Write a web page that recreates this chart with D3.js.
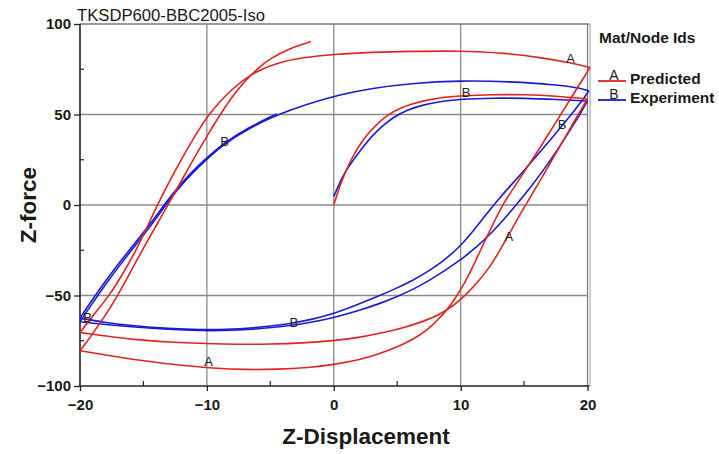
<!DOCTYPE html>
<html><head><meta charset="utf-8">
<script src="https://cdn.jsdelivr.net/npm/d3@7"></script>
<style>
body{margin:0;background:#fff;}
svg{display:block;font-family:Arial,"Liberation Sans",sans-serif;}
</style>
</head><body>
<svg id="chart" width="719" height="454"></svg>
<script>
// ---------------- data ----------------
const chartTitle = "TKSDP600-BBC2005-Iso";
const xTitle = "Z-Displacement";
const yTitle = "Z-force";
const legendTitle = "Mat/Node Ids";
const seriesNames = ["Predicted", "Experiment"];
const seriesIds = ["A", "B"];
const xTicks = [-20, -10, 0, 10, 20];
const yTicks = [-100, -50, 0, 50, 100];
const xMinorTicks = [-15, -5, 5, 15];
const yMinorTicks = [-75, -25, 25, 75];
const xGrid = [-10, 0, 10];
const yGrid = [-50, 0, 50];

// Predicted (A) – loading path segments, [displacement, force]
const predVirgin = [[0,0],[0.4,9],[0.9,18],[1.5,27],[2.2,35],[2.9,41],[3.6,46],[4.3,50],[5.2,53.5],[6.2,56],[7.5,58.2],[8.8,59.6],[10,60.4],[12.5,61],[15,61],[17.5,60.3],[20,58.5]];
const predUnload1 = [[20,58.5],[19.1,48],[18.2,37],[17.3,26],[16.4,15],[15.5,4.5],[14.7,-5],[13.9,-15],[13.1,-25],[12.3,-34.5],[11.3,-43],[10.3,-50.5],[9.3,-56.3],[8.3,-60.8],[7,-64.5],[5.5,-67.8],[3.7,-70.9],[2,-73.2],[0,-75],[-2.5,-76.3],[-5,-76.9],[-7.5,-77],[-10,-76.6],[-12.5,-75.9],[-15,-74.8],[-17.5,-72.9],[-20,-70.5]];
const predReload1 = [[-20,-70.5],[-19.3,-64],[-18.5,-57],[-17.6,-49],[-16.8,-40],[-16,-30.5],[-15.3,-21],[-14.6,-10.5],[-13.9,0],[-13.1,11],[-12.3,21.5],[-11.5,31.5],[-10.7,41],[-9.9,49.5],[-9,57],[-8,64],[-7,69.8],[-5.8,74.8],[-4.3,78.8],[-2.5,81.5],[0,83.3],[3,84.4],[6,84.9],[10,85.2],[13.5,84],[16.5,81.3],[18.7,78.5],[20.2,76]];
const predUnload2 = [[20.2,76],[19.4,67],[18.6,58],[17.8,49],[17,40],[16.2,31],[15.3,21.5],[14.4,11.5],[13.5,2.5],[12.8,-7],[12.1,-17],[11.4,-27.5],[10.7,-38],[10,-47],[9.2,-55.5],[8.3,-63],[7.3,-69.5],[6.2,-74.5],[5,-78.5],[3.5,-82.5],[2,-85.5],[0,-88.2],[-2,-89.9],[-4.5,-90.8],[-7,-91],[-9.5,-90.2],[-12,-88.6],[-14.5,-86.6],[-17,-84],[-20,-80.5]];
const predReload2 = [[-20,-80.5],[-19.5,-76],[-18.8,-69],[-18,-61],[-17.2,-52],[-16.4,-42],[-15.6,-31.5],[-14.7,-20],[-13.8,-9],[-12.9,2],[-12,13.5],[-11,26],[-10,38],[-9,49.5],[-8,60],[-7,68.5],[-6,75.5],[-5,81],[-3.5,86.5],[-1.8,90.3]];

// Experiment (B)
const expVirgin = [[0,4.6],[0.5,13],[1,19.5],[1.6,25.5],[2.3,32],[3,38],[3.8,43.5],[4.7,48.5],[5.8,52.5],[7,55.3],[8.5,57.3],[10,58.5],[12.5,59.1],[15,59],[17.5,58.3],[20,57.5]];
const expUnload1 = [[20,57.5],[19.4,50],[18.5,40],[17.6,30],[16.6,20],[15.6,10.5],[14.6,2],[13.6,-6.5],[12.5,-15],[11.3,-23],[10,-30.4],[8.8,-36],[7.6,-41.4],[6.3,-46.5],[5,-50.6],[3.7,-54.3],[2,-58.3],[0,-62.2],[-1.7,-64.7],[-3.4,-66.6],[-5.5,-68.2],[-8,-69.4],[-10.5,-69.5],[-13,-68.8],[-15.8,-67.4],[-18,-66],[-20,-64.5]];
const expReload1 = [[-20,-64.5],[-19.1,-55],[-18.1,-45],[-16.9,-33.5],[-15.6,-22],[-14.3,-10.5],[-13.1,1.5],[-11.8,13],[-10.3,23.5],[-8.7,33.5],[-6.8,42],[-4.5,49.8],[-2,56],[0.5,61],[3,64.5],[6,67.2],[10,68.8],[13.9,68.2],[17.5,66.5],[19.5,64.6],[20.1,63]];
const expUnload2 = [[20.1,63],[19.6,58],[19,52.5],[18.2,45.5],[17.2,37],[16.1,28],[15,19],[13.9,10.5],[12.9,2.5],[11.8,-7],[10.8,-16],[9.8,-24],[8.7,-30.5],[7.5,-36.5],[6.2,-41.8],[4.8,-46.5],[3.3,-51],[1.7,-55.5],[0,-60],[-1.7,-63.2],[-3.4,-65.5],[-5.5,-67.4],[-8,-68.7],[-10.5,-69],[-13,-68.3],[-15.8,-66.8],[-18,-65],[-20,-62.5]];
const expReload2 = [[-20,-62.5],[-19.1,-53],[-18.1,-43],[-16.9,-31.8],[-15.6,-20.5],[-14.3,-9],[-13.1,2.6],[-11.8,14],[-10.3,24.3],[-8.7,34.2],[-6.8,42.6],[-4.5,50.3]];

// curve id markers (series index, displacement, force)
const markerSeries = [0, 1, 1, 0, 1, 1, 0, 1];
const markerX = [18.67, 10.44, 18.0, 13.8, -8.6, -3.15, -9.86, -19.4];
const markerY = [80.7, 61.9, 44.2, -17.5, 35, -64.8, -86.6, -62.4];

// ---------------- drawing ----------------
const colors = ["#e4221f", "#1a1ad6"];
const W = 719, H = 454;
const m = {left: 80, right: 131.5, top: 24, bottom: 68};
const svg = d3.select("#chart");
const x = d3.scaleLinear().domain([-20, 20]).range([m.left, W - m.right]);
const y = d3.scaleLinear().domain([-100, 100]).range([H - m.bottom, m.top]);
const x0 = x.range()[0], x1 = x.range()[1], y0 = y.range()[0], y1 = y.range()[1];

svg.append("rect").attr("width", W).attr("height", H).attr("fill", "#fff");

// grid
const g = svg.append("g");
g.selectAll(".gx").data(xGrid).join("line")
  .attr("x1", d => x(d)).attr("x2", d => x(d)).attr("y1", y1).attr("y2", y0)
  .attr("stroke", "#8a8a8a").attr("stroke-width", 1.3);
g.selectAll(".gy").data(yGrid).join("line")
  .attr("y1", d => y(d)).attr("y2", d => y(d)).attr("x1", x0).attr("x2", x1)
  .attr("stroke", "#8a8a8a").attr("stroke-width", 1.3);
// top & right frame
g.append("line").attr("x1", x0).attr("x2", x1 + 2).attr("y1", y1).attr("y2", y1)
  .attr("stroke", "#7a7a7a").attr("stroke-width", 1.4);
g.append("line").attr("x1", x1).attr("x2", x1).attr("y1", y1).attr("y2", y0)
  .attr("stroke", "#7a7a7a").attr("stroke-width", 1.2);
g.append("line").attr("x1", x1 + 2.5).attr("x2", x1 + 2.5).attr("y1", y1).attr("y2", y0)
  .attr("stroke", "#9a9a9a").attr("stroke-width", 1.0);

// axes
const xAxis = d3.axisBottom(x).tickValues(xTicks).tickSize(5).tickPadding(8).tickFormat(d3.format("d"));
const yAxis = d3.axisLeft(y).tickValues(yTicks).tickSize(6).tickPadding(3).tickFormat(d3.format("d"));
const gx = svg.append("g").attr("transform", `translate(0,${y0})`).call(xAxis);
const gy = svg.append("g").attr("transform", `translate(${x0},0)`).call(yAxis);
[gx, gy].forEach(a => {
  a.select(".domain").attr("stroke", "#222").attr("stroke-width", 1.6);
  a.selectAll(".tick line").attr("stroke", "#222").attr("stroke-width", 1.3);
  a.selectAll(".tick text").attr("fill", "#1a1a1a").attr("font-size", 15).attr("font-weight", "bold")
    .attr("font-family", "Arial, 'Liberation Sans', sans-serif");
});
gx.select(".domain").attr("d", `M${x0},0H${x1 + 2}`);
gy.select(".domain").attr("d", `M0,${y0}V${y1}`);
// minor ticks (inward)
svg.append("g").selectAll("line").data(xMinorTicks).join("line")
  .attr("x1", d => x(d)).attr("x2", d => x(d)).attr("y1", y0).attr("y2", y0 - 5)
  .attr("stroke", "#222").attr("stroke-width", 1.2);
svg.append("g").selectAll("line").data(yMinorTicks).join("line")
  .attr("y1", d => y(d)).attr("y2", d => y(d)).attr("x1", x0).attr("x2", x0 + 4)
  .attr("stroke", "#222").attr("stroke-width", 1.2);

// curves
svg.append("defs").append("clipPath").attr("id", "clip")
  .append("rect").attr("x", x0).attr("y", y1 - 2).attr("width", x1 - x0 + 3).attr("height", y0 - y1 + 4);
const line = d3.line().x(d => x(d[0])).y(d => y(d[1])).curve(d3.curveBasis);
const series = [
  [predVirgin, predUnload1, predReload1, predUnload2, predReload2],
  [expVirgin, expUnload1, expReload1, expUnload2, expReload2]
];
const cg = svg.append("g").attr("clip-path", "url(#clip)");
[1, 0].forEach(si => {
  cg.append("g").selectAll("path").data(series[si]).join("path")
    .attr("d", line).attr("fill", "none").attr("stroke", colors[si])
    .attr("stroke-width", 1.6).attr("stroke-linejoin", "round");
});

// id markers on curves
svg.append("g").selectAll("text").data(markerX.map((v, i) => i)).join("text")
  .attr("x", i => x(markerX[i])).attr("y", i => y(markerY[i]))
  .attr("text-anchor", "middle").attr("dominant-baseline", "central")
  .attr("font-size", 13).attr("fill", "#222")
  .text(i => seriesIds[markerSeries[i]]);

// title
svg.append("text").attr("x", x0 - 3).attr("y", 20.5).attr("font-size", 16)
  .attr("textLength", 188).attr("lengthAdjust", "spacingAndGlyphs")
  .attr("fill", "#1a1a1a").text(chartTitle);
// axis titles
svg.append("text").attr("x", 366).attr("y", 444).attr("text-anchor", "middle")
  .attr("font-size", 22.5).attr("font-weight", "bold").attr("fill", "#1a1a1a").text(xTitle);
svg.append("text").attr("transform", `translate(36,${(y0 + y1) / 2}) rotate(-90)`)
  .attr("text-anchor", "middle").attr("font-size", 22.5).attr("font-weight", "bold")
  .attr("fill", "#1a1a1a").text(yTitle);

// legend
const lg = svg.append("g");
lg.append("text").attr("x", 599).attr("y", 43).attr("font-size", 15.5).attr("font-weight", "bold")
  .attr("fill", "#1a1a1a").text(legendTitle);
const legY = [81, 100];
seriesNames.forEach((name, i) => {
  lg.append("line").attr("x1", 598).attr("x2", 626).attr("y1", legY[i]).attr("y2", legY[i])
    .attr("stroke", colors[i]).attr("stroke-width", 1.8);
  lg.append("text").attr("x", 614).attr("y", legY[i] - 1).attr("text-anchor", "middle")
    .attr("font-size", 14).attr("fill", "#222").text(seriesIds[i]);
  lg.append("text").attr("x", 630).attr("y", legY[i] + 3).attr("font-size", 15.5).attr("font-weight", "bold")
    .attr("fill", "#1a1a1a").text(name);
});
</script>
</body></html>
